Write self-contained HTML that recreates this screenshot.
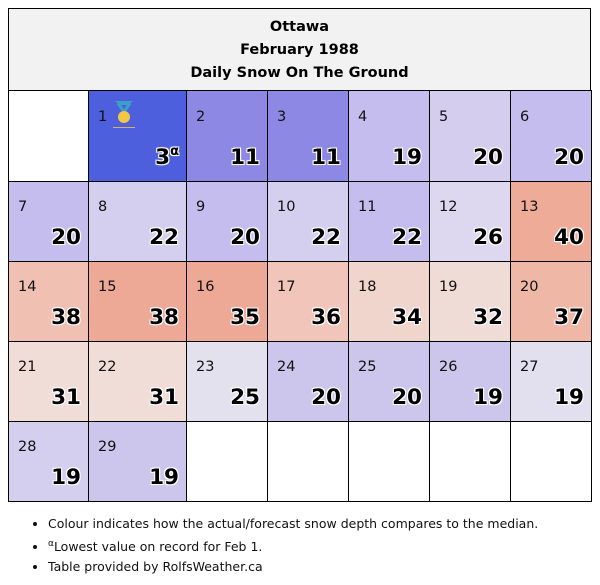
<!DOCTYPE html>
<html><head><meta charset="utf-8">
<style>
body{margin:0;background:#fff;width:600px;height:585px;position:relative;font-family:"DejaVu Sans","Liberation Sans",sans-serif;overflow:hidden}
#hdr{position:absolute;left:8px;top:8px;width:583px;height:83px;background:#f2f2f2;border:1px solid #000;text-align:center;font-weight:bold;font-size:14.5px;line-height:23px;padding-top:7px;box-sizing:border-box}
.cell{position:absolute;border:1px solid #000;box-sizing:border-box}
.day{position:absolute;left:9px;top:17px;font-size:14.5px;color:#111}
.val{position:absolute;right:7px;bottom:11px;font-size:21.5px;font-weight:bold;color:#000;text-shadow:-1px -1px 0 #fff,1px -1px 0 #fff,-1px 1px 0 #fff,1px 1px 0 #fff,0 0 2px #fff}
.val sup{font-size:13px;vertical-align:9px}
ul{position:absolute;left:22px;top:514px;margin:0;padding-left:26px;font-size:12.5px;line-height:20px;color:#111}
</style></head><body>
<div id="hdr">Ottawa<br>February 1988<br>Daily Snow On The Ground</div>
<div id="grid"></div>
<ul>
<li>Colour indicates how the actual/forecast snow depth compares to the median.</li>
<li><sup style="font-size:9px">α</sup>Lowest value on record for Feb 1.</li>
<li>Table provided by RolfsWeather.ca</li>
</ul>
<script>
const days=[1,2,3,4,5,6,7,8,9,10,11,12,13,14,15,16,17,18,19,20,21,22,23,24,25,26,27,28,29];
const values=[3,11,11,19,20,20,20,22,20,22,22,26,40,38,38,35,36,34,32,37,31,31,25,20,20,19,19,19,19];
const colors=["#4d5fdd","#8d88e4","#8d88e4","#c4bdee","#d4cdee","#c4bdee","#c4bdee","#d4cfee","#c4bdee","#d4cfee","#c4bdee","#ddd8f0","#eeab98","#f0c0b2","#eda896","#eda896","#f1c5ba","#f0d5cd","#f0dcd6","#efb7a6","#f0ddd7","#f0ddd7","#e4e1ef","#ccc6ec","#ccc6ec","#ccc6ec","#e2dfef","#d4cfee","#ccc6ec"];
const colX=[8,88,186,267,348,429,510,591];
const rowY=[90,181,261,341,421,501];
const startDow=1;
const g=document.getElementById('grid');
for(let i=0;i<35;i++){
  const r=Math.floor(i/7),c=i%7;
  const d=document.createElement('div');
  d.className='cell';
  d.style.left=colX[c]+'px';d.style.top=rowY[r]+'px';
  d.style.width=(colX[c+1]-colX[c]+1)+'px';d.style.height=(rowY[r+1]-rowY[r]+1)+'px';
  const k=i-startDow;
  if(k>=0&&k<days.length){
    
    
    d.style.background=colors[k];
    const dn=document.createElement('div');dn.className='day';dn.textContent=days[k];
    if(r===0)dn.style.top='18px';
    
    
    d.appendChild(dn);
    const v=document.createElement('div');v.className='val';v.textContent=values[k];
    
    
    if(k===0){const s=document.createElement('sup');s.textContent='α';v.appendChild(s);
      const m=document.createElement('div');
      
      
      m.style.cssText='position:absolute;left:23px;top:9px;width:24px;height:30px';
      m.innerHTML='<svg width="24" height="30"><path d="M3 1h18l-5 4h-8z" fill="#3aa0c8"/><path d="M6 3l6 9 6-9" stroke="#3aa0c8" stroke-width="3" fill="none"/><circle cx="12" cy="17" r="6" fill="#f2c744"/><rect x="1" y="27" width="22" height="1" fill="#d8b060"/></svg>';
      d.appendChild(m);}
    d.appendChild(v);
  } else {
    
    
    d.style.background='#fff';
  }
  g.appendChild(d);
}
</script>
</body></html>
